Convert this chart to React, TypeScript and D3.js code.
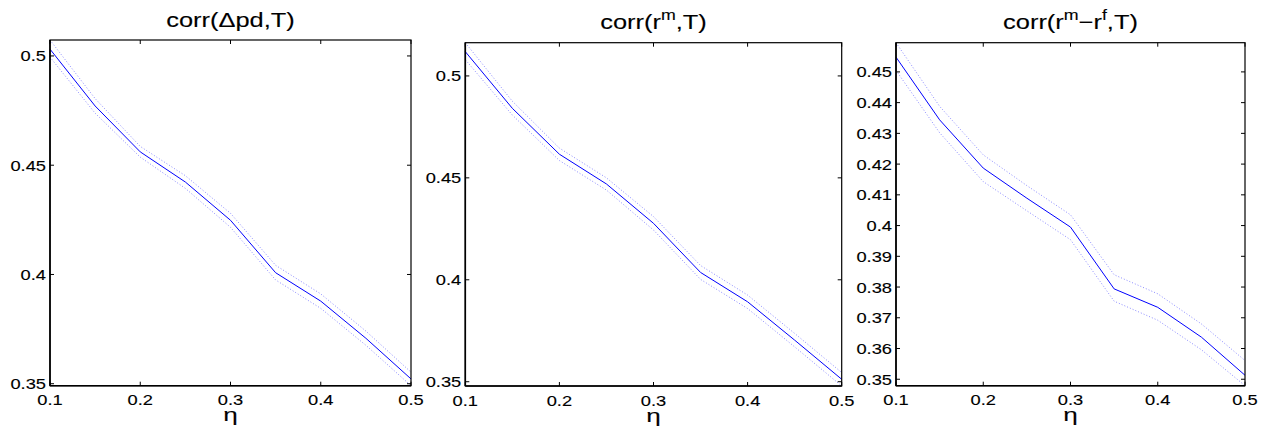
import React from "react";
import * as d3 from "d3";

const eta = [0.1, 0.15, 0.2, 0.25, 0.3, 0.35, 0.4, 0.45, 0.5];
const xTicks = [0.1, 0.2, 0.3, 0.4, 0.5];

const p1Main = [0.5031, 0.4771, 0.4561, 0.4423, 0.4248, 0.4008, 0.3878, 0.3708, 0.3522];
const p1Upper = [0.5073, 0.4805, 0.4586, 0.4452, 0.428, 0.4042, 0.3911, 0.3741, 0.3553];
const p1Lower = [0.4995, 0.4738, 0.4537, 0.4394, 0.4216, 0.3975, 0.3845, 0.3676, 0.3491];
const p1Ticks = [0.35, 0.4, 0.45, 0.5];

const p2Main = [0.5119, 0.4841, 0.4616, 0.447, 0.4277, 0.4036, 0.3892, 0.3704, 0.3512];
const p2Upper = [0.5163, 0.4876, 0.4646, 0.45, 0.431, 0.407, 0.3925, 0.3737, 0.3545];
const p2Lower = [0.508, 0.4808, 0.4585, 0.444, 0.4244, 0.4002, 0.3859, 0.3671, 0.3479];
const p2Ticks = [0.35, 0.4, 0.45, 0.5];

const p3Main = [0.4548, 0.4344, 0.4187, 0.4089, 0.3995, 0.3794, 0.3734, 0.3637, 0.3513];
const p3Upper = [0.4595, 0.4388, 0.423, 0.413, 0.4035, 0.384, 0.3778, 0.368, 0.3561];
const p3Lower = [0.4505, 0.4302, 0.4143, 0.4048, 0.3954, 0.3754, 0.3692, 0.3596, 0.3479];
const p3Ticks = [0.35, 0.36, 0.37, 0.38, 0.39, 0.4, 0.41, 0.42, 0.43, 0.44, 0.45];

const FONT = "'Liberation Sans', Arial, Helvetica, sans-serif";
const TICK_FS = 15;
const TICK_SX = 1.22;
const TITLE_FS = 20;
const TITLE_SX = 1.27;
const TEXT_STROKE = 0.12;

type Panel = {
  box: { left: number; right: number; top: number; bottom: number };
  yDomain: [number, number];
  main: number[];
  upper: number[];
  lower: number[];
  yTicks: number[];
  title: React.ReactNode;
};

const panels: Panel[] = [
  {
    box: { left: 50, right: 411, top: 40, bottom: 385.7 },
    yDomain: [0.3491, 0.5073],
    main: p1Main,
    upper: p1Upper,
    lower: p1Lower,
    yTicks: p1Ticks,
    title: <tspan>corr(Δpd,T)</tspan>,
  },
  {
    box: { left: 465.3, right: 841.7, top: 42.7, bottom: 386 },
    yDomain: [0.3479, 0.5163],
    main: p2Main,
    upper: p2Upper,
    lower: p2Lower,
    yTicks: p2Ticks,
    title: (
      <>
        <tspan>corr(r</tspan>
        <tspan fontSize={14} dy={-9}>m</tspan>
        <tspan dy={9}>,T)</tspan>
      </>
    ),
  },
  {
    box: { left: 896, right: 1245, top: 42.7, bottom: 385.7 },
    yDomain: [0.3479, 0.4595],
    main: p3Main,
    upper: p3Upper,
    lower: p3Lower,
    yTicks: p3Ticks,
    title: (
      <>
        <tspan>corr(r</tspan>
        <tspan fontSize={14} dy={-9}>m</tspan>
        <tspan dy={9}>−r</tspan>
        <tspan fontSize={14} dy={-9}>f</tspan>
        <tspan dy={9}>,T)</tspan>
      </>
    ),
  },
];

const fmt = (v: number) => String(+v.toFixed(4));

function PanelView({ p }: { p: Panel }) {
  const { left, right, top, bottom } = p.box;
  const x = d3.scaleLinear().domain([0.1, 0.5]).range([left, right]);
  const y = d3.scaleLinear().domain(p.yDomain).range([bottom, top]);
  const line = d3
    .line<number>()
    .x((_, i) => x(eta[i]))
    .y((d) => y(d));
  const tl = 4;
  const cx = (left + right) / 2;
  const textProps = {
    fontFamily: FONT,
    fill: "black",
    stroke: "black",
    strokeWidth: TEXT_STROKE,
  };
  return (
    <g>
      <rect x={left} y={top} width={right - left} height={bottom - top} fill="white" />
      <path d={line(p.upper) || ""} fill="none" stroke="#8c8cff" strokeWidth={1} strokeDasharray="1,2" />
      <path d={line(p.lower) || ""} fill="none" stroke="#8c8cff" strokeWidth={1} strokeDasharray="1,2" />
      <path d={line(p.main) || ""} fill="none" stroke="#0000ff" strokeWidth={1} />
      <rect x={left} y={top} width={right - left} height={bottom - top} fill="none" stroke="black" strokeWidth={1.2} />
      <line x1={left} x2={left} y1={top} y2={bottom} stroke="black" strokeWidth={1.6} />
      <line x1={left} x2={right} y1={bottom} y2={bottom} stroke="black" strokeWidth={1.6} />
      {xTicks.map((t) => (
        <g key={"x" + t}>
          <line x1={x(t)} x2={x(t)} y1={bottom} y2={bottom - tl} stroke="black" strokeWidth={1} />
          <line x1={x(t)} x2={x(t)} y1={top} y2={top + tl} stroke="black" strokeWidth={1} />
          <g transform={`translate(${x(t)},${bottom + 19.5}) scale(${TICK_SX},1)`}>
            <text textAnchor="middle" fontSize={TICK_FS} {...textProps}>
              {fmt(t)}
            </text>
          </g>
        </g>
      ))}
      {p.yTicks.map((t) => (
        <g key={"y" + t}>
          <line x1={left} x2={left + tl} y1={y(t)} y2={y(t)} stroke="black" strokeWidth={1} />
          <line x1={right} x2={right - tl} y1={y(t)} y2={y(t)} stroke="black" strokeWidth={1} />
          <g transform={`translate(${left - 4},${y(t) + 5.5}) scale(${TICK_SX},1)`}>
            <text textAnchor="end" fontSize={TICK_FS} {...textProps}>
              {fmt(t)}
            </text>
          </g>
        </g>
      ))}
      <g transform={`translate(${cx},${bottom + 35.5}) scale(1.45,1)`}>
        <text textAnchor="middle" fontSize={18} {...textProps}>
          η
        </text>
      </g>
      <g transform={`translate(${cx},${top - 13.5}) scale(${TITLE_SX},1)`}>
        <text textAnchor="middle" fontSize={TITLE_FS} {...textProps}>
          {p.title}
        </text>
      </g>
    </g>
  );
}

export default function App() {
  return (
    <svg
      width={1271}
      height={428}
      style={{ position: "absolute", left: 0, top: 0, background: "white" }}
    >
      <rect x={0} y={0} width={1271} height={428} fill="white" />
      {panels.map((p, i) => (
        <PanelView key={i} p={p} />
      ))}
    </svg>
  );
}
